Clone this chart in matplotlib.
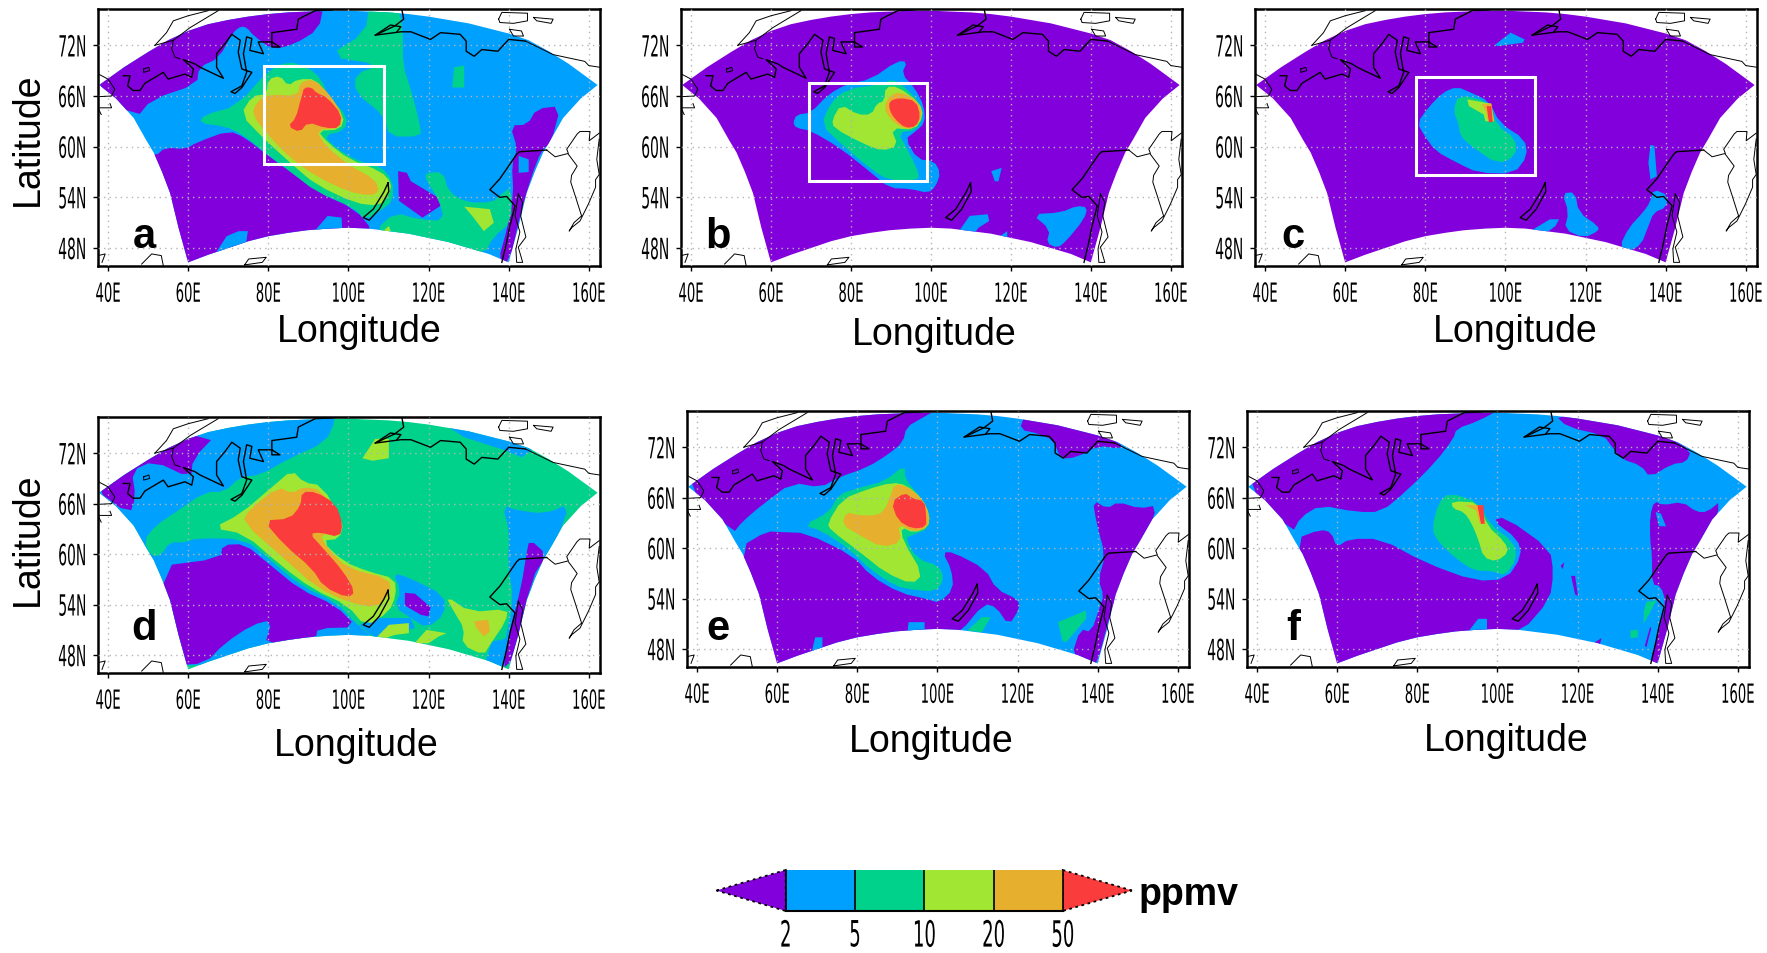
import matplotlib
matplotlib.use("Agg")
import matplotlib.pyplot as plt
import matplotlib.patheffects as pe
from matplotlib.patches import Polygon, Rectangle
from matplotlib.transforms import Affine2D

# ---- colour classes (below 2, 2-5, 5-10, 10-20, 20-50, above 50 ppmv) ----
PURPLE, BLUE, GREEN, LIME, ORANGE, RED = "#8200DC", "#00A0FF", "#00D28C", "#A0E632", "#E6AF2D", "#FA3C3C"
CBAR_COLORS = [BLUE, GREEN, LIME, ORANGE]
CBAR_LABELS = ["2", "5", "10", "20", "50"]

LON_TICKS = [40, 60, 80, 100, 120, 140, 160]
LAT_TICKS = [48, 54, 60, 66, 72]

# model domain outline
SECTOR = [(37.8, 67.3), (44, 69.4), (50, 71.2), (55, 72.6), (60, 73.7), (65, 74.5), (70, 75.0), (75, 75.4), (80, 75.7),
          (85, 75.9), (90, 76.0), (95, 76.1), (100, 76.1), (105, 76), (110, 75.9), (115, 75.7), (120, 75.4), (125, 75),
          (130, 74.6), (135, 74), (140, 73.4), (145, 72.6), (150, 71.3), (155, 69.8), (162.2, 67.3),
          (158, 65.7), (153.6, 63.4), (150.5, 60.8), (148.6, 59.3), (146.5, 57), (144.5, 54.5), (142.4, 50.4), (140, 46.3),
          (135, 47.3), (130, 48), (125, 48.7), (120, 49.2), (115, 49.7), (110, 50), (105, 50.3), (100, 50.4), (95, 50.3),
          (89.6, 50.1), (85, 49.8), (80, 49.4), (75, 48.8), (70, 48), (65, 47.2), (60, 46.3), (57.6, 50.4), (55.5, 54.5),
          (53.5, 57), (51.4, 59.3), (49.5, 60.8), (46.4, 63.4), (42, 65.7)]

# ---- coastlines ----
COAST_THICK = [
    [(43.8, 68.4), (45.5, 68.4), (44.9, 67.2), (46.3, 66.65), (48, 66.65), (49.2, 67.5), (53.8, 68.8), (55, 68), (59.2, 68.6),
     (60.9, 68.2), (61.3, 69.2), (58.8, 70.3), (61.7, 69.8), (63, 69.4), (68.8, 68.1), (67.1, 69.4), (67.1, 71), (69.2, 72.2),
     (70.9, 73.3), (73, 72.6), (72.5, 71.2), (73.4, 69.2), (75.9, 68.8), (73.4, 67), (71.7, 66.3), (70.7, 66.5), (73.4, 67.2),
     (74.6, 68.8), (73.8, 71), (74.6, 73), (75.9, 72.8), (75.4, 71.4), (78.8, 71), (77.5, 72.4), (80.9, 72.4), (82.9, 71.8),
     (80.9, 71.8), (80.9, 73.5), (87.1, 73.9), (87.5, 75.1), (91.7, 76.1), (96, 76.2)],
    [(113.4, 76.1), (113.8, 75.1), (111.6, 74.3), (106.7, 73.2), (113.1, 73.6), (115.6, 73.6), (120.5, 72.7),
     (123, 73.5), (127.9, 73.3), (129.4, 72.5), (129.4, 71.3), (131.4, 70.7), (133.3, 71.5), (137.3, 71.3),
     (140, 72.7), (144.2, 72.5)],
    [(106.7, 73.2), (110.5, 74.4), (113.1, 74.2), (112.1, 73.6)],
    [(149.5, 59.6), (142.7, 59.4), (142, 59.1), (137.8, 56.2), (135.3, 54.9), (137.8, 54), (139.5, 54.1),
     (141.6, 53), (140.3, 50.6), (139.5, 48.7), (138.3, 46.3)],
    [(109.9, 55.7), (110.1, 54.7), (107.7, 52.6), (105.2, 51.3), (103.7, 51.6), (106.2, 52.6), (108.8, 54.6),
     (109.9, 55.7)],
]
COAST_THIN = [
    [(37.6, 68.6), (40, 68), (41.7, 66.8), (40.9, 66), (36.8, 65.9)],
    [(40.5, 65.1), (40.9, 64.6), (37.5, 64.6), (38.3, 63.8)],
    [(48.9, 69.2), (50.2, 69.4), (50.4, 69), (48.9, 68.8), (48.9, 69.2)],
    [(51.7, 72), (54.6, 73.5), (56.3, 74.9), (60, 75.5), (65, 76.1)],
    [(51.7, 72), (56.3, 72.6), (55.9, 71.6), (56.7, 70.6), (58, 70.4)],
    [(56.3, 72.6), (60.5, 74.1), (67.5, 76.1)],
    [(144.2, 72.5), (151.1, 70.9), (159, 70.1), (160, 69.6), (162.8, 69.4)],
    [(137.5, 75.1), (138.3, 75.9), (144.7, 75.8), (144.7, 74.9), (141.2, 74.6), (137.8, 74.7), (137.5, 75.1)],
    [(146.2, 75.3), (151.1, 75.1), (150.6, 74.6), (147, 74.9), (146.2, 75.3)],
    [(140.2, 73.9), (143.2, 73.7), (143.7, 73.1), (141.2, 73.1), (140.2, 73.9)],
    [(149.5, 59.6), (151.6, 58.8), (154.9, 59.2), (154.5, 59.7), (157.1, 61.5), (157.8, 61.8), (160.3, 61.8), (160.1, 60.7), (162.6, 61.6)],
    [(162.6, 60.9), (162, 58.5), (162.6, 56.7), (161.7, 56.1), (161.7, 55.2), (159.9, 53.2), (157.8, 51.2), (155.7, 50.4), (155.1, 50),
     (156.3, 51), (158.2, 51.8), (156.6, 54.2), (155.5, 55.8), (155.7, 56.6), (157.1, 57.7), (154.9, 59.1)],
    [(142.4, 54.4), (143.5, 53.4), (143, 51.8), (144.3, 49.3), (142.4, 48.1), (143.5, 46.3), (142, 46.3), (141.8, 47.9), (142.8, 49.9),
     (141.6, 51.8), (142.4, 54.4)],
    [(37.5, 47.1), (39.3, 47.3), (38.5, 46.3)],
    [(48.4, 46.1), (50.9, 47.3), (53.3, 47.1), (53.8, 45.9)],
    [(74.1, 46), (75.1, 46.7), (79.5, 46.9), (78.5, 46.3), (74.1, 46)],
]

# ---- panel a ----
A_BOX = (79, 108.8, 57.9, 69.55)
A_PURPLE = [
    [(36, 67.6), (46.9, 63.3), (50.9, 65.6), (62.2, 67.4), (62.7, 69.4), (67.7, 70.5), (71.1, 73.5), (73.3, 74.3),
     (74.9, 74), (76.2, 73.2), (81, 71.5), (86.4, 72.1), (92.6, 73.9), (93.8, 76.7), (36, 76.7)],
    [(51.9, 58.9), (54.3, 59.9), (59.3, 59.7), (62.2, 60.5), (70.1, 61.9), (74.1, 61.1), (80, 58.9), (85.9, 56.9),
     (91.9, 54.7), (101.7, 52.6), (106.2, 50), (106, 45), (45, 45), (45, 58.9)],
    [(112.4, 57.1), (114.6, 56.9), (115.6, 55.9), (123, 53.8), (123, 53), (118.5, 51.6), (112.6, 53.6)],
    [(140.4, 62.5), (144.7, 62.6), (147, 64.5), (153, 64.8), (150.6, 60.5), (148.1, 59.5), (145.7, 56.5), (143, 52.2),
     (140.2, 46.3), (137.3, 46.3), (139.8, 50.6), (141.2, 54.2), (140.8, 58.1), (142.2, 59.7)],
]
A_BLUE = [
    [(91.9, 49), (91.9, 50.2), (94.8, 51.8), (98.3, 51.6), (98.6, 49)],
    [(66.2, 46.9), (69.6, 49.4), (72.6, 50), (74.9, 50), (74.3, 48)],
    [(142.5, 58.9), (145, 58.5), (145, 57), (142.5, 56.9)],
]
A_GREEN = [
    [(105.2, 76.7), (112.1, 76.7), (113.6, 74.3), (113.6, 69.6), (115.6, 66.8), (118, 62.4), (118, 61.2), (110.1, 61.2),
     (109.1, 63.6), (101.7, 66.4), (101.7, 68.6), (108.1, 69.7), (94.8, 70.7), (104.2, 73.5)],
    [(125.9, 67), (126.4, 69.4), (128.9, 69.6), (128.9, 67)],
    [(62.7, 62.8), (64.2, 63.8), (72.1, 64.8), (80, 69), (84.9, 70.1), (89.9, 69.4), (93.3, 68), (94.8, 66), (99.8, 63.6),
     (99, 61.9), (93.8, 61.3), (96.8, 59.9), (102.2, 58.3), (108.1, 57.7), (111.1, 55.9), (111.1, 53.6), (108.6, 52.6),
     (104.2, 51.3), (101.2, 52.8), (91.9, 54.7), (85.9, 56.9), (80, 59), (73.1, 61.6), (69.1, 62.4)],
    [(119.3, 56.9), (123.7, 57), (124.9, 54.7), (129.4, 53.4), (135.8, 53.4), (137.8, 54.2), (140.7, 55.3), (140.7, 51),
     (136.3, 49.4), (133.8, 47.2), (127.4, 48.2), (111.6, 49.6), (106.7, 50.1), (111.6, 52.2), (117.5, 51.4), (124, 51.2),
     (122.5, 53.8), (119.3, 56.1)],
]
A_LIME = [
    [(73.1, 63.8), (76, 66), (79.5, 66.2), (80, 68), (83, 68.4), (84.9, 67.2), (87.4, 68), (91.9, 68), (94.8, 66),
     (99, 63.6), (98, 62), (92.3, 61.9), (94.8, 60.5), (100.2, 58.5), (108.1, 57.1), (110.8, 55.7), (110.1, 54.2),
     (107.7, 53), (101.7, 53.3), (91.9, 55.5), (85.9, 57.9), (79, 60.9)],
    [(128.9, 52.9), (135.3, 52.6), (136.3, 51), (133.8, 50), (130.9, 51.8)],
    [(108.6, 50), (110.1, 50.6), (110.6, 50)],
]
A_ORANGE = [
    [(76, 63.8), (77, 65.2), (80, 66.2), (87.4, 66), (87.9, 67.6), (91.4, 68), (95.3, 66.2), (98.6, 63.8), (97.8, 62.2),
     (91.9, 62), (94.3, 60.1), (99.8, 57.9), (106.7, 56.1), (107.7, 54.6), (105.2, 54.2), (99.8, 54.7), (91.9, 56.5),
     (85.9, 58.5), (80, 61.3)],
]
A_RED = [
    [(88.4, 66), (88.9, 67), (90.9, 67), (91.9, 66.4), (94.8, 65.8), (98.3, 63.8), (97.8, 62.2), (94.3, 62.2), (89.9, 62.9),
     (87.9, 61.7), (84.9, 62.4), (86.9, 63.4), (88.1, 65.6)],
]

# ---- panel b ----
B_BOX = (69.5, 99.1, 55.9, 67.5)
B_BLUE = [
    [(65.5, 62.8), (66.4, 63.8), (69.9, 64), (74.4, 66.2), (78.9, 67.4), (85.1, 68), (91.4, 70.1), (94.1, 70.1), (92.7, 68.6),
     (95.9, 67), (98.3, 64.8), (98.5, 62.8), (95.9, 61.7), (93.6, 60.9), (96.7, 58.5), (100.8, 58.3), (102.4, 56.9),
     (101.2, 55.3), (99.3, 54.5), (95, 55), (89.6, 55.1), (85.1, 56.9), (77.1, 59.9), (69.9, 61.9), (66.4, 62.2)],
    [(115.1, 57.1), (117.7, 57.5), (116.9, 55.9), (116, 55.9)],
    [(107, 50), (109.7, 51.8), (114.2, 52), (114.6, 51.2), (111.9, 50.4), (111, 49.8)],
    [(125.3, 52), (132.5, 52.2), (136.5, 53), (139.2, 52.8), (138.3, 51.4), (133.8, 48.8), (131.6, 48), (128.9, 48.6),
     (129.8, 50.2)],
    [(117.3, 49.4), (119.1, 50), (119.1, 49.2)],
]
B_GREEN = [
    [(72.6, 62.6), (74.9, 65.2), (78.9, 66.8), (87.8, 67.4), (90.5, 68), (93.6, 67), (97.2, 65.2), (98.1, 63.6), (96.3, 61.9),
     (91.8, 61.7), (94.1, 59.7), (97.2, 56.7), (96.3, 56), (89.6, 56), (85.1, 57.3), (77.1, 60.5)],
]
B_LIME = [
    [(75.3, 63.2), (77.5, 65), (81.6, 63.8), (85.1, 63.8), (86.5, 65.1), (88.3, 65.4), (88.7, 67.1), (91.8, 67.1), (97.2, 65.2),
     (98.1, 63.6), (95.9, 62), (90, 62.2), (91.8, 60.1), (87.8, 59.5), (83.3, 60.3), (75.7, 62.2)],
]
B_ORANGE = [
    [(88.3, 64.6), (89.6, 66), (92.3, 66.5), (96.7, 65.4), (97.9, 63.8), (95.9, 62.1), (92.7, 62.2), (89.6, 63.4)],
]
B_RED = [
    [(89.6, 65.4), (92.3, 65.8), (96.3, 65.4), (97.4, 63.6), (96.3, 62.4), (93.6, 62.2), (90.9, 63.3), (89.6, 64.4)],
]

# ---- panel c ----
C_BOX = (77.7, 107.4, 56.7, 68.3)
C_BLUE = [
    [(78, 62.8), (80.7, 64.6), (84.3, 66.4), (87.9, 67.1), (91.4, 66.4), (95.9, 65.4), (98.6, 62.8), (104.8, 60.9), (105.5, 58.9),
     (102.2, 56.8), (93.2, 56.9), (87.9, 58.1), (82.5, 59.5), (79.8, 61.3)],
    [(97.5, 72.1), (101.3, 73.5), (104.8, 72.7), (104.4, 72.3), (97.9, 71.9)],
    [(136.2, 60.2), (137.2, 60.1), (137.8, 56.5), (136.2, 56.1), (135.7, 58.1)],
    [(114.2, 54.5), (117.4, 54.6), (118.3, 52.2), (123.2, 50.6), (123.2, 50), (119.6, 49.2), (114.7, 50.2), (115.8, 52.2)],
    [(106.2, 50), (111.1, 51.4), (113.4, 51.4), (112.5, 50.6), (110.2, 49.8)],
    [(128.5, 48.2), (130.8, 50.4), (134.3, 52.2), (136.1, 53.4), (137, 55), (140.6, 54.2), (140.1, 52.8), (137, 52.2), (135.7, 50.6),
     (133.9, 48.4), (130.8, 47.6)],
]
C_GREEN = [
    [(87, 64.2), (88.3, 66.2), (95.9, 65.3), (97.7, 62.6), (102.6, 60.9), (102.6, 58.9), (98.1, 57.9), (91.4, 60.1), (88.7, 61.3),
     (88.3, 62.8)],
]
C_LIME = [[(90.5, 65.6), (96.4, 65.1), (97.2, 63), (95, 63), (94.6, 63.8), (90.9, 64.8)]]
C_ORANGE = [[(94.1, 65), (96.5, 65.1), (97.2, 63), (95.5, 63.3), (95.3, 64.1)]]
C_RED = [[(95.3, 64.8), (96.5, 64.8), (96.8, 62.9), (95.9, 62.9)]]

# ---- panel d ----
D_BLUE = [
    [(37.5, 77.7), (96.3, 77.7), (96.8, 75.9), (94.3, 73.3), (84.9, 71.3), (78, 69.4), (73.1, 69.2), (69.1, 67.4), (64.2, 67.4),
     (56.3, 64.8), (51.9, 63.4), (48.9, 61.6), (50.9, 59.7), (53.3, 59.9), (55.3, 61.4), (59.3, 61.4), (62.2, 61.9), (74.1, 61.8),
     (80, 59.5), (87.9, 56.3), (96.8, 54.3), (102.2, 51.6), (106.7, 50), (91.9, 50), (72.1, 46.8), (52.3, 46.8), (37.5, 58.7)],
    [(138.5, 65.8), (142.2, 65.2), (149.1, 64.8), (155.3, 66), (152.1, 61.8), (149.6, 59.9), (145.7, 56.3), (141.2, 47.2),
     (137.3, 46.4), (139.3, 50), (141.2, 54.7), (139.8, 58.7), (140.2, 62.6)],
    [(134.3, 47.4), (135.8, 49.6), (139.8, 50), (138.3, 46.5)],
    [(124.9, 75.1), (128.9, 73.9), (139.3, 72.3), (143.2, 71.5), (146.7, 72.7), (141.7, 75.3), (124.9, 76)],
    [(111.1, 57.8), (115.6, 57.1), (124, 55.1), (124, 52.8), (119.5, 51.2), (115.6, 52.4), (111.6, 53.7), (113.1, 55.7)],
    [(102.7, 51.6), (107.7, 52.4), (115.6, 52.4), (116.6, 51.2), (106.7, 50)],
]
D_PURPLE = [
    [(36.5, 67.8), (45.4, 64.7), (46.9, 66.8), (45.9, 69.9), (51.4, 71.1), (60.7, 69), (61.2, 71.3), (67.2, 74.3), (37.5, 74.5)],
    [(51.9, 58.5), (68.1, 59.5), (68.6, 61.1), (74.1, 61.2), (80, 58.9), (87.9, 55.8), (96.8, 53.9), (102.2, 51.3), (92.3, 51.2),
     (91.9, 50), (79, 49), (81, 52.2), (76, 51.6), (69.1, 49.4), (64.2, 47), (56.3, 46.8)],
    [(114.1, 55.4), (116.6, 55.3), (120.5, 53.7), (120, 52.6), (118, 52.8), (114.1, 53.9)],
    [(145.2, 61.8), (149.6, 59.9), (145.7, 57.1), (141.2, 47.6), (138.3, 46.2), (140.7, 51.6), (143.2, 56.3), (144.4, 59.9)],
]
D_LIME = [
    [(66.2, 63.1), (73.1, 64.8), (81, 68), (85.9, 70), (88.9, 68.5), (93.3, 68.2), (98.8, 63.8), (97.8, 61.8), (93.3, 61.6),
     (98.8, 59.1), (105.2, 57.9), (111.6, 57.1), (111.9, 55.1), (110.1, 53.1), (104.2, 51.4), (99.8, 53.9), (90.9, 55.9),
     (83, 58.7), (74.1, 62.4)],
    [(103.5, 71.4), (106.7, 73.7), (110.1, 73.7), (110.1, 71.4), (106, 71.1)],
    [(124.2, 55.1), (130.4, 53.1), (139.8, 53.5), (139.3, 52), (135.3, 49.2), (133.8, 48), (128.4, 49.2), (128.9, 51.2), (126.4, 53.1)],
    [(107.2, 50.2), (110.1, 51.6), (115.1, 51.8), (115.1, 50.6), (111.6, 50.4), (109.2, 50)],
    [(116.5, 49.4), (119.5, 51), (124.5, 50.6), (122.5, 50.2), (120, 49.4)],
]
D_ORANGE = [
    [(73.6, 63.8), (75.1, 65.2), (82.5, 68), (85.9, 67.2), (88.9, 68), (93.3, 67.6), (98.3, 63.8), (97.6, 62.2), (92.8, 62.4),
     (94.8, 60.7), (99.8, 58.3), (110.1, 57.1), (110.6, 55.5), (107.2, 53.6), (99.8, 54.3), (91.9, 56.1), (83.9, 59.5)],
    [(131.4, 52), (134.9, 52.2), (135.3, 50.8), (133.8, 50.2), (131.9, 51.3)],
]
D_RED = [
    [(78.8, 64), (85.4, 64.2), (88.1, 65.8), (88.4, 67.4), (91.9, 67.4), (96.8, 66), (98.6, 63.6), (97.8, 62), (92.8, 62.6),
     (90.4, 62.4), (93.3, 60.9), (98.8, 57.9), (101.7, 55.5), (99.8, 54.8), (93.9, 56.1), (90.9, 58.3), (84, 61.1)],
]

# ---- panel e ----
E_PURPLE = [
    [(36.9, 67.8), (48.9, 61.7), (51.2, 63.1), (56.1, 65.1), (63.7, 67.8), (70.9, 67.2), (75.3, 68.4), (82.5, 69.6), (87.9, 71.2),
     (91.4, 72.6), (92.3, 74.4), (95.9, 75.4), (100.4, 76.6), (36.9, 76.6)],
    [(50.7, 60.1), (57.4, 62), (61, 61.9), (67.3, 61.8), (78.9, 59.1), (83.4, 56.7), (90.5, 54.7), (97.7, 53.9), (100.4, 53.5), (104, 55.1),
     (103.5, 57.5), (101.3, 59.5), (104, 59.5), (112, 57.5), (114.7, 55.1), (120.1, 53.9), (120.5, 52.8), (117.8, 50.8), (114.7, 53),
     (111.6, 53.4), (105.7, 50), (101, 49), (61, 46), (50.7, 46)],
    [(120.5, 74.1), (121.8, 75.8), (132.6, 75.8), (146, 72.4), (145.5, 71.8), (140.2, 72.2), (134.8, 70.8), (130.8, 70.6), (129, 72.8),
     (125.4, 73.6)],
    [(138.8, 65.7), (142.4, 64.7), (145.1, 65.5), (150.5, 64.7), (154.9, 65.1), (152.3, 61.5), (149.1, 59.1), (145.5, 55.5), (143.3, 52.4),
     (139.7, 46), (138, 46), (133.5, 47.2), (135.7, 50.4), (138.4, 50), (140.6, 53.1), (141.5, 54.3), (140.2, 56.3), (141.9, 59.1), (139.7, 63)],
]
E_BLUE = [
    [(92.3, 49), (92.8, 51.2), (96.8, 51.2), (96.8, 49)],
    [(68.6, 47.6), (69.5, 49.4), (71.3, 49.4), (71.3, 48.2)],
]
E_GREEN = [
    [(66.6, 62.7), (73.1, 64.3), (75.3, 66.4), (80.7, 67.2), (87, 68), (91.9, 69.9), (91.9, 68.2), (95.9, 66), (98.1, 63.9), (97.7, 62.3),
     (94.1, 61.6), (91.9, 61.2), (95, 58.7), (100.4, 57.9), (101.7, 56.3), (99.5, 54.8), (93.2, 55.1), (89.6, 55.5), (83.4, 57.4),
     (78, 59.9), (70.9, 62.1)],
    [(107.5, 50.2), (111.1, 51.8), (113.3, 51.8), (111.1, 50)],
    [(130.1, 51.2), (137.1, 52.6), (137.1, 51.6), (132.1, 48.8), (131.2, 49)],
]
E_LIME = [
    [(72.5, 62.9), (76.2, 65.8), (82.5, 67), (88.7, 67.8), (92.3, 67.5), (96.4, 65.8), (98.1, 63.9), (97.7, 62.5), (94.1, 61.8), (91, 62.5),
     (91.4, 60.9), (96.4, 56.9), (93.7, 55.7), (87, 57.1), (80.7, 59.5), (73.5, 62.1)],
]
E_ORANGE = [
    [(76.2, 62.8), (77.3, 64.3), (80.3, 63.9), (85.2, 63.9), (87, 64.7), (88.3, 66.2), (89.2, 67.6), (92.3, 67.4), (95.9, 66), (98.1, 63.9),
     (97.5, 62.4), (94.1, 61.9), (90.1, 62.9), (91, 60.7), (86.1, 60.1), (80.7, 61.5)],
]
E_RED = [[(88.5, 65.5), (91.9, 66.6), (93.7, 65.9), (96.8, 65.6), (97.2, 63.9), (97.2, 62.5), (93.7, 62.3), (90.1, 63.3)]]

# ---- panel f ----
F_PURPLE = [
    [(37, 67.8), (48.7, 61.7), (50.9, 63.7), (55.8, 65.1), (64.8, 64.3), (71, 64.3), (77.3, 66.8), (84.5, 70.2), (89, 73), (89.8, 74.2),
     (95.2, 75.1), (101.1, 76.6), (37, 76.6)],
    [(49.6, 61.1), (55.8, 62.2), (58.5, 61.9), (59.9, 60.1), (63, 61.1), (71, 61.1), (81.8, 58.3), (94.3, 56.1), (102.3, 56.3), (106.1, 59.1),
     (105, 61.1), (98.8, 63.3), (101.9, 63.7), (113.1, 59.9), (114, 57.1), (113.1, 53.9), (106, 50), (96.9, 49.5), (80.9, 48.4), (60.3, 45.6),
     (49.6, 45.6)],
    [(114.4, 75.8), (117.5, 74.4), (126.5, 73.4), (128.7, 72), (131, 70.6), (135.9, 69.8), (138.1, 68.4), (143.5, 70), (147.1, 70.2), (148.4, 71.6),
     (141.7, 73.4), (125.6, 75.8)],
    [(138.1, 63.9), (139.2, 65.6), (141.2, 65.1), (146.2, 65.5), (149.7, 64.3), (152.4, 64.3), (156, 65.7), (152.4, 60.7), (149.7, 59.1),
     (146.2, 55.1), (143, 50.8), (140, 46), (138.1, 46.4), (140.4, 50.4), (142.1, 53.5), (140.8, 55.5), (138.6, 55.7), (138.6, 59.1), (138.1, 61.1)],
    [(136.8, 48.4), (138.1, 50.6), (138.4, 50.5), (137.2, 48.2)],
    [(124.3, 48.8), (126, 49.3), (125.6, 48.6)],
    [(118.4, 56.7), (119.4, 56.7), (120.1, 54.3), (119.4, 54.5)],
    [(115.8, 57.9), (116.7, 58.3), (116.3, 57.5)],
]
F_BLUE = [
    [(91.8, 49.5), (95.2, 51.6), (97.4, 51.6), (97.4, 49.5)],
    [(139.5, 64.3), (140.8, 64.1), (142.1, 62.6), (140.3, 62.6)],
]
F_GREEN = [
    [(83.6, 62.3), (85.3, 65.4), (88, 66.6), (95.6, 65.4), (97.9, 62.9), (104.1, 60.7), (104.8, 58.7), (101.9, 56.7), (98.8, 57.3), (94.3, 57.3),
     (89.8, 58.7), (85.3, 60.7)],
    [(136.5, 52.4), (137.2, 53.6), (139.7, 53.8), (138.6, 52.8), (136.5, 51)],
    [(133.2, 50.2), (135, 50.3), (135, 49.4), (133.2, 49.3)],
]
F_LIME = [
    [(88.5, 65.6), (95.6, 65.4), (97.4, 62.7), (101.9, 60.7), (102.8, 59.5), (99.7, 58.4), (96.5, 58.9), (95.2, 61.1), (93.4, 63.1), (91.6, 64.3),
     (88.9, 64.7)],
]
F_ORANGE = [[(91.8, 65.1), (96.1, 65.1), (97, 62.9), (95.6, 62.9), (94.7, 64.5)]]
F_RED = [[(95, 65.1), (96.5, 65.1), (96.8, 62.9), (95.9, 62.9)]]

# label, axes px (left, right, top, bottom), base colour, layers in drawing order, white box
PANELS = [
    ("a", (98, 600, 10, 267), BLUE, [(PURPLE, A_PURPLE), (BLUE, A_BLUE), (GREEN, A_GREEN), (LIME, A_LIME), (ORANGE, A_ORANGE), (RED, A_RED)], A_BOX),
    ("b", (681, 1182, 10, 267), PURPLE, [(BLUE, B_BLUE), (GREEN, B_GREEN), (LIME, B_LIME), (ORANGE, B_ORANGE), (RED, B_RED)], B_BOX),
    ("c", (1255, 1757, 10, 267), PURPLE, [(BLUE, C_BLUE), (GREEN, C_GREEN), (LIME, C_LIME), (ORANGE, C_ORANGE), (RED, C_RED)], C_BOX),
    ("d", (98, 600, 418, 674), GREEN, [(BLUE, D_BLUE), (PURPLE, D_PURPLE), (LIME, D_LIME), (ORANGE, D_ORANGE), (RED, D_RED)], None),
    ("e", (687, 1189, 412, 668), BLUE, [(PURPLE, E_PURPLE), (BLUE, E_BLUE), (GREEN, E_GREEN), (LIME, E_LIME), (ORANGE, E_ORANGE), (RED, E_RED)], None),
    ("f", (1247, 1749, 412, 668), BLUE, [(PURPLE, F_PURPLE), (BLUE, F_BLUE), (GREEN, F_GREEN), (LIME, F_LIME), (ORANGE, F_ORANGE), (RED, F_RED)], None),
]
LABEL_POS = {"a": (144, 237), "b": (718, 237), "c": (1293, 237), "d": (144, 629), "e": (718, 629), "f": (1293, 629)}
LON_LABEL_POS = {"a": (359, 332), "b": (934, 335), "c": (1515, 332), "d": (356, 746), "e": (931, 742), "f": (1506, 741)}
LAT_LABEL_POS = {"a": (28, 139), "d": (28, 539)}

W, H = 1767, 954
plt.rcParams["font.family"] = ["DejaVu Sans"]
fig = plt.figure(figsize=(W / 100, H / 100), dpi=100)


class Tall(pe.AbstractPathEffect):
    """Stretches glyphs vertically, the GrADS labels are tall and very condensed."""

    def __init__(self, sy, anchor="center"):
        super().__init__()
        self.sy = sy
        self.anchor = anchor

    def draw_path(self, renderer, gc, tpath, affine, rgbFace=None):
        ext = tpath.get_extents()
        cy = ext.y1 if self.anchor == "top" else (ext.y0 + ext.y1) / 2
        tall = Affine2D().translate(0, -cy).scale(1, self.sy).translate(0, cy) + affine
        renderer.draw_path(gc, tpath, tall, rgbFace)


def px_axes(left, right, top, bottom):
    return fig.add_axes([left / W, 1 - bottom / H, (right - left) / W, (bottom - top) / H])


def put_text(x, y, s, **kw):
    kw.setdefault("family", ["Liberation Sans", "DejaVu Sans"])
    return fig.text(x / W, 1 - y / H, s, ha="center", va="center", **kw)


def smooth(ring, passes=1):
    # corner cutting, the contour edges in the reference are rounded
    if len(ring) < 8:
        return ring
    for _ in range(passes):
        out = []
        for i, (x0, y0) in enumerate(ring):
            x1, y1 = ring[(i + 1) % len(ring)]
            out.append((0.75 * x0 + 0.25 * x1, 0.75 * y0 + 0.25 * y1))
            out.append((0.25 * x0 + 0.75 * x1, 0.25 * y0 + 0.75 * y1))
        ring = out
    return ring


def draw_panel(name, box, base, layers, white_box):
    ax = px_axes(*box)
    sector = Polygon(SECTOR, closed=True, fc=base, ec="none", zorder=1)
    ax.add_patch(sector)
    for color, rings in layers:
        for ring in rings:
            p = Polygon(smooth(ring), closed=True, fc=color, ec="none", zorder=2)
            ax.add_patch(p)
            p.set_clip_path(sector)
    for line in COAST_THIN:
        ax.plot(*zip(*line), color="black", lw=0.7, zorder=4)
    for line in COAST_THICK:
        ax.plot(*zip(*line), color="black", lw=1.0, zorder=4)
    if white_box:
        x0, x1, y0, y1 = white_box
        ax.add_patch(Rectangle((x0, y0), x1 - x0, y1 - y0, fill=False, ec="white", lw=2.2, zorder=5))
    ax.set_xlim(37.5, 162.8)
    ax.set_ylim(45.87, 76.3)
    ax.set_xticks(LON_TICKS)
    ax.set_yticks(LAT_TICKS)
    ax.set_xticklabels([f"{v}E" for v in LON_TICKS], fontsize=9.5)
    ax.set_yticklabels([f"{v}N" for v in LAT_TICKS], fontsize=10)
    ax.tick_params(axis="x", length=3.5, width=1, pad=8)
    ax.tick_params(axis="y", length=3.5, width=1, pad=5)
    for t in ax.get_xticklabels():
        t.set_path_effects([Tall(2.0, "top")])
    for t in ax.get_yticklabels():
        t.set_path_effects([Tall(2.1)])
    ax.grid(True, color="#b4b4b4", linestyle=(0, (1, 3)), linewidth=1, zorder=3)
    ax.set_axisbelow(False)
    for sp in ax.spines.values():
        sp.set_linewidth(1.8)
    put_text(*LABEL_POS[name], name, fontsize=30, fontweight="bold")
    put_text(*LON_LABEL_POS[name], "Longitude", fontsize=27)
    if name in LAT_LABEL_POS:
        put_text(*LAT_LABEL_POS[name], "Latitude", fontsize=27, rotation=90)


for panel in PANELS:
    draw_panel(*panel)

# colour bar with triangular ends
cax = px_axes(716.5, 1132, 871, 912)
cax.set_xlim(-1, 5)
cax.set_ylim(0, 1)
cax.axis("off")
cax.add_patch(Polygon([(-1, 0.5), (0, 1), (0, 0)], closed=True, fc=PURPLE, ec="black", ls=(0, (1.5, 2)), lw=1.3, clip_on=False))
cax.add_patch(Polygon([(5, 0.5), (4, 1), (4, 0)], closed=True, fc=RED, ec="black", ls=(0, (1.5, 2)), lw=1.3, clip_on=False))
for i, color in enumerate(CBAR_COLORS):
    cax.add_patch(Rectangle((i, 0), 1, 1, fc=color, ec="none"))
for i, label in enumerate(CBAR_LABELS):
    cax.plot([i, i], [0, 1], color="black", lw=1.2)
    t = cax.text(i, -0.2, label, ha="center", va="top", fontsize=13, clip_on=False)
    t.set_path_effects([Tall(2.0, "top")])
cax.plot([0, 4], [0, 0], color="black", lw=1.5, clip_on=False)
put_text(1189, 895, "ppmv", fontsize=27, fontweight="bold")

fig.savefig("out.png", dpi=100)
